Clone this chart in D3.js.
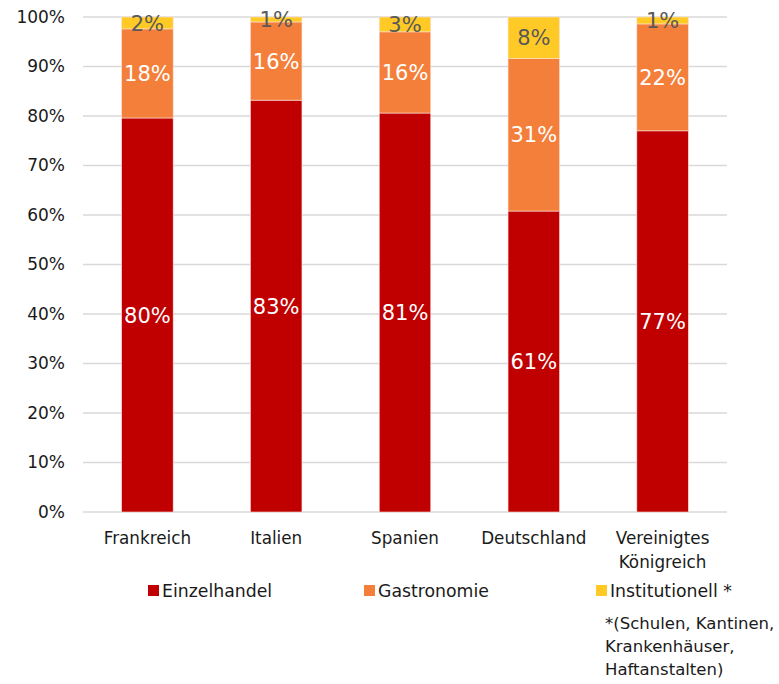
<!DOCTYPE html>
<html>
<head>
<meta charset="utf-8">
<script src="https://cdn.jsdelivr.net/npm/d3@7"></script>
<style>
  html, body { margin: 0; padding: 0; background: #fff; }
  svg { display: block; font-family: "DejaVu Sans", sans-serif; }
</style>
</head>
<body>
<svg id="chart" width="779" height="684"></svg>
<script>
// Data
const categories = [["Frankreich"], ["Italien"], ["Spanien"], ["Deutschland"], ["Vereinigtes", "Königreich"]];
const seriesNames = ["Einzelhandel", "Gastronomie", "Institutionell *"];
const einzelhandel = [79.6, 83.2, 80.6, 60.8, 77.0];
const gastronomie = [18.0, 15.8, 16.4, 30.8, 21.6];
const institutionell = [2.4, 1.0, 3.0, 8.4, 1.4];
const yTicks = [0, 10, 20, 30, 40, 50, 60, 70, 80, 90, 100];
const footnote = ["*(Schulen, Kantinen,", "Krankenhäuser,", "Haftanstalten)"];

const colors = ["#C00000", "#F47F3B", "#FFCA26"];
const labelColors = ["#ffffff", "#ffffff", "#595959"];

const svg = d3.select("#chart");
const margin = { left: 83, right: 52, top: 17, bottom: 172 };
const W = 779, H = 684;
const x = d3.scaleBand().domain(d3.range(categories.length)).range([margin.left, W - margin.right]).paddingInner(0.6).paddingOuter(0.3);
const y = d3.scaleLinear().domain([0, 100]).range([H - margin.bottom, margin.top]);

// grid
svg.append("g").selectAll("line").data(yTicks).join("line")
  .attr("x1", margin.left).attr("x2", W - margin.right)
  .attr("y1", d => y(d)).attr("y2", d => y(d))
  .attr("stroke", "#d9d9d9").attr("stroke-width", 1.3);

// y axis labels
const yAxis = d3.axisLeft(y).tickValues(yTicks).tickFormat(d => d + "%").tickSize(0).tickPadding(18);
const ya = svg.append("g").attr("transform", `translate(${margin.left},0)`).call(yAxis);
ya.select(".domain").remove();
ya.selectAll("text").attr("font-size", 17).attr("fill", "#1a1a1a").attr("font-family", "DejaVu Sans, sans-serif");

// stacked data
const rows = categories.map((c, i) => ({ i, s0: einzelhandel[i], s1: gastronomie[i], s2: institutionell[i] }));
const stack = d3.stack().keys(["s0", "s1", "s2"]);
const stacked = stack(rows);

stacked.forEach((layer, k) => {
  const g = svg.append("g");
  g.selectAll("rect").data(layer).join("rect")
    .attr("x", d => x(d.data.i))
    .attr("width", x.bandwidth())
    .attr("y", d => y(d[1]))
    .attr("height", d => y(d[0]) - y(d[1]))
    .attr("fill", colors[k])
    .attr("stroke", "#fbe0d8").attr("stroke-width", 0.6);
  g.selectAll("text").data(layer).join("text")
    .attr("x", d => x(d.data.i) + x.bandwidth() / 2)
    .attr("y", d => y((d[0] + d[1]) / 2))
    .attr("dy", "0.36em")
    .attr("text-anchor", "middle")
    .attr("font-size", 21)
    .attr("fill", labelColors[k])
    .text(d => Math.round(d[1] - d[0]) + "%");
});

// x axis labels
const xl = svg.append("g");
categories.forEach((lines, i) => {
  const t = xl.append("text")
    .attr("x", x(i) + x.bandwidth() / 2)
    .attr("y", 544)
    .attr("text-anchor", "middle")
    .attr("font-size", 16.8)
    .attr("fill", "#1a1a1a");
  lines.forEach((ln, j) => t.append("tspan").attr("x", x(i) + x.bandwidth() / 2).attr("dy", j === 0 ? 0 : 24).text(ln));
});

// legend
const legendX = [148, 364, 596];
const lg = svg.append("g");
seriesNames.forEach((n, k) => {
  lg.append("rect").attr("x", legendX[k]).attr("y", 585).attr("width", 11).attr("height", 11).attr("fill", colors[k]);
  lg.append("text").attr("x", legendX[k] + 14).attr("y", 597).attr("font-size", 17.3).attr("fill", "#1a1a1a").text(n);
});
footnote.forEach((ln, j) => {
  lg.append("text").attr("x", 605).attr("y", 629 + j * 23).attr("font-size", 16.5).attr("fill", "#1a1a1a").text(ln);
});
</script>
</body>
</html>
